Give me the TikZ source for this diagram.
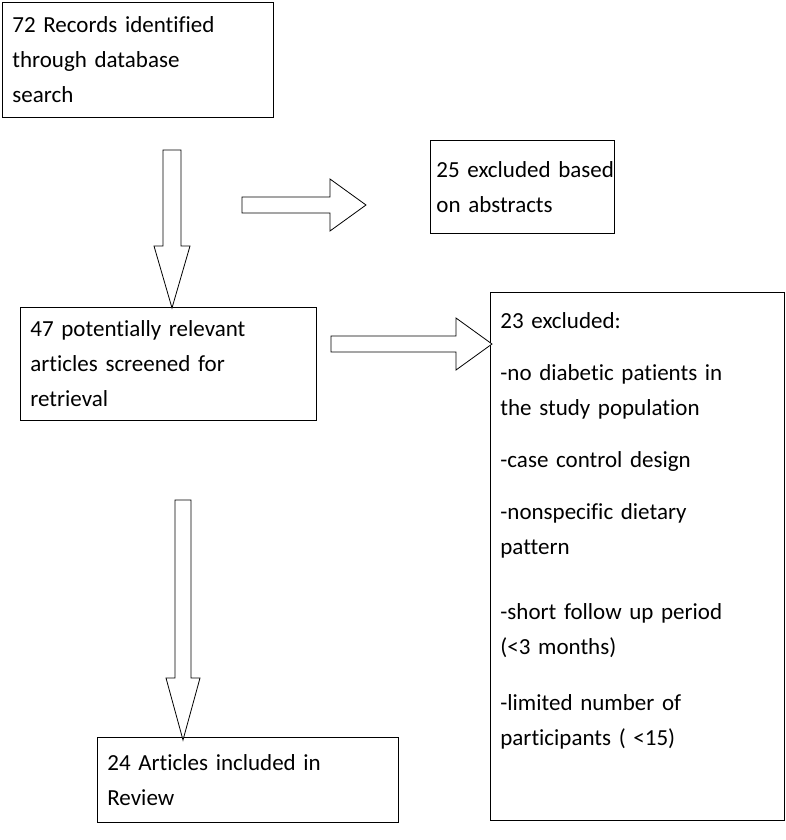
\documentclass[tikz,border=0pt]{standalone}
\usepackage{fontspec}
\setmainfont{Carlito}[Ligatures=NoCommon]
\usetikzlibrary{positioning}
\tikzset{
	box/.style={
		rectangle,
		draw=black, thick,
		anchor=north west,
		align=left,
		inner xsep=10pt, inner ysep=8pt,
		font=\fontsize{23}{35}\selectfont,
	},
	blockarrow/.style={draw=black, thick, fill=white},
}
% block arrow: tail point, tip point, half shaft, half head
\newcommand{\downblock}[4]{%
  \draw[blockarrow] (#1-#3,#2) -- (#1+#3,#2) -- (#1+#3,#4-62) -- (#1+#3+9,#4-62)
    -- (#1,#4) -- (#1-#3-9,#4-62) -- (#1-#3,#4-62) -- cycle;}
\newcommand{\rightblock}[4]{%
  \draw[blockarrow] (#1,#2-#3) -- (#4-36,#2-#3) -- (#4-36,#2-#3-18) -- (#4,#2)
    -- (#4-36,#2+#3+18) -- (#4-36,#2+#3) -- (#1,#2+#3) -- cycle;}

\begin{document}
\begin{tikzpicture}[x=1pt,y=-1pt]
        \useasboundingbox (0,0) rectangle (786,840);
        \node[box, minimum width=271pt, minimum height=115pt, text width=251pt] (records) at (2,2) {72 Records identified\\through database\\search};
        \node[box, minimum width=184pt, minimum height=93pt, text width=172pt, inner xsep=6pt] (abstracts) at (430,140) {\mbox{25 excluded based}\\on abstracts};
        \node[box, minimum width=296pt, minimum height=113pt, text width=276pt] (screened) at (20,307) {47 potentially relevant\\articles screened for\\retrieval};
        \node[box, text width=274pt, inner ysep=0pt] (excluded) at (490,292) {\parbox[t][528pt][t]{274pt}{\raggedright\vspace{20pt}23 excluded:\\[17pt]-no diabetic patients in\\the study population\\[17pt]-case control design\\[17pt]-nonspecific dietary\\pattern\\[30pt]-short follow up period\\(<3 months)\\[21pt]-limited number of\\participants ( <15)}};
        \node[box, minimum width=301pt, minimum height=85pt, text width=281pt] (included) at (97,737) {24 Articles included in\\Review};

        % arrows between the boxes
        \downblock{172}{150}{9}{308}
        \rightblock{242}{205}{8}{366}
        \downblock{183}{500}{8}{740}
        \rightblock{331}{344}{8}{492}
    \end{tikzpicture}
\end{document}
